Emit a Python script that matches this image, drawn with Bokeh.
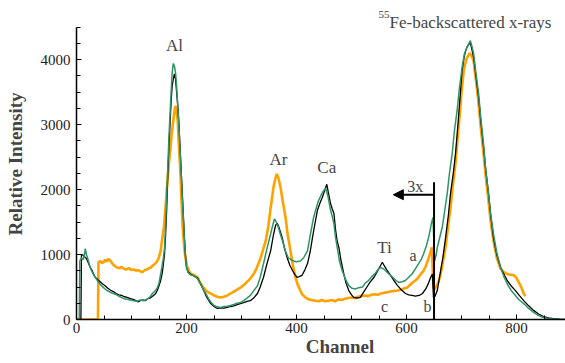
from bokeh.plotting import figure
from bokeh.models import FixedTicker, Label, Arrow, NormalHead
from bokeh.embed import file_html
from bokeh.resources import INLINE

# ---- data ----
black_ch = [0, 8, 9, 12, 15, 18, 21, 25, 28, 31, 34, 38, 42, 47, 52, 57, 62, 67, 72, 77, 82, 87, 92, 98, 103, 108, 112, 116, 120, 125, 129, 134, 140, 144, 147, 150, 153, 156, 158, 160, 162, 164, 166, 168, 170, 172, 174, 176, 178, 180, 182, 184, 186, 188, 190, 192, 194, 196, 198, 200, 203, 207, 211, 215, 220, 225, 231, 237, 244, 250, 256, 262, 268, 274, 280, 286, 292, 298, 304, 310, 316, 322, 329, 334, 340, 346, 353, 358, 362, 365, 368, 371, 374, 378, 383, 388, 393, 397, 401, 405, 410, 415, 420, 425, 429, 434, 438, 443, 447, 451, 455, 458, 462, 465, 468, 471, 474, 477, 481, 486, 490, 495, 500, 504, 510, 516, 522, 528, 534, 541, 547, 552, 556, 560, 565, 571, 577, 583, 589, 594, 598, 604, 610, 616, 623, 629, 635, 640, 644, 647, 649, 652, 656, 659, 662, 666, 671, 676, 680, 685, 689, 692, 695, 698, 701, 705, 708, 710, 713, 716, 719, 722, 726, 731, 735, 740, 744, 749, 753, 758, 764, 771, 777, 783, 790, 798, 805, 813, 822, 831, 840, 849, 858, 867, 878, 890]
black_val = [0, 0, 1000, 990, 960, 940, 880, 800, 760, 700, 650, 620, 590, 550, 520, 480, 450, 430, 400, 380, 370, 350, 340, 320, 310, 290, 270, 290, 300, 290, 320, 330, 370, 400, 450, 520, 600, 720, 860, 1000, 1300, 1700, 2240, 2650, 3000, 3350, 3600, 3700, 3780, 3700, 3500, 3300, 3050, 2700, 2350, 2000, 1650, 1300, 1000, 800, 730, 700, 680, 660, 640, 560, 450, 340, 245, 200, 170, 180, 175, 185, 200, 210, 230, 245, 260, 280, 290, 330, 400, 500, 650, 850, 1060, 1300, 1450, 1480, 1420, 1340, 1260, 1100, 950, 830, 750, 690, 650, 660, 680, 760, 860, 1050, 1260, 1500, 1680, 1800, 1880, 1980, 2080, 1950, 1780, 1700, 1630, 1380, 1200, 1110, 900, 700, 560, 445, 380, 340, 330, 340, 420, 500, 580, 650, 740, 820, 880, 820, 750, 680, 600, 530, 470, 430, 400, 380, 370, 360, 370, 400, 470, 560, 650, 700, 330, 360, 450, 600, 750, 950, 1260, 1600, 1940, 2250, 2550, 2850, 3170, 3500, 3830, 4050, 4150, 4190, 4230, 4260, 4150, 4030, 3750, 3420, 3050, 2650, 2300, 1940, 1600, 1260, 1000, 800, 700, 600, 520, 445, 370, 290, 210, 140, 85, 45, 25, 15, 5, 0]

orange_ch = [0, 39, 40, 43, 46, 49, 52, 55, 58, 62, 66, 70, 74, 78, 82, 86, 90, 95, 100, 104, 108, 112, 116, 120, 124, 128, 132, 135, 139, 143, 147, 150, 153, 156, 159, 162, 165, 168, 171, 173, 176, 178, 180, 182, 184, 186, 189, 191, 193, 196, 198, 201, 204, 208, 212, 216, 220, 225, 231, 237, 244, 250, 256, 262, 268, 274, 280, 286, 292, 298, 304, 310, 316, 322, 327, 331, 336, 340, 344, 349, 353, 356, 358, 361, 364, 367, 371, 375, 380, 384, 389, 393, 398, 402, 407, 411, 416, 422, 428, 434, 440, 446, 452, 458, 464, 470, 476, 482, 488, 494, 500, 506, 512, 518, 524, 530, 536, 542, 548, 553, 559, 565, 571, 577, 584, 590, 596, 601, 606, 611, 616, 620, 625, 631, 635, 640, 643, 646, 649, 652, 655, 659, 662, 666, 671, 675, 680, 684, 689, 693, 697, 700, 704, 707, 710, 713, 715, 718, 722, 726, 731, 735, 740, 744, 749, 753, 758, 764, 771, 777, 783, 789, 795, 800, 804, 809, 813, 816]
orange_val = [0, 0, 880, 900, 870, 880, 920, 890, 930, 900, 850, 820, 800, 790, 810, 780, 770, 790, 760, 770, 750, 760, 740, 730, 760, 770, 790, 800, 830, 860, 900, 960, 1060, 1250, 1420, 1750, 2090, 2400, 2650, 2850, 3060, 3200, 3290, 3200, 3060, 2700, 2240, 1800, 1420, 1100, 950, 820, 750, 700, 690, 670, 650, 560, 490, 430, 400, 370, 350, 340, 350, 370, 400, 430, 460, 490, 530, 580, 630, 700, 780, 860, 980, 1100, 1210, 1450, 1720, 1900, 2030, 2150, 2240, 2180, 2030, 1820, 1570, 1300, 1060, 850, 650, 540, 445, 380, 340, 310, 300, 290, 280, 300, 280, 290, 300, 280, 310, 300, 320, 330, 340, 330, 350, 360, 370, 360, 380, 390, 380, 400, 410, 420, 430, 440, 445, 460, 480, 490, 530, 570, 600, 630, 690, 750, 820, 940, 1020, 1110, 480, 470, 520, 600, 700, 880, 1110, 1400, 1720, 2050, 2400, 2800, 3170, 3500, 3830, 3950, 4030, 4070, 4100, 4060, 3980, 3700, 3320, 2950, 2550, 2200, 1830, 1500, 1210, 950, 780, 730, 700, 690, 680, 640, 570, 490, 400, 360]

green_ch = [0, 5, 6, 9, 12, 14, 16, 18, 20, 23, 25, 29, 33, 38, 43, 49, 55, 61, 67, 73, 79, 86, 92, 98, 104, 110, 116, 122, 128, 133, 138, 143, 147, 150, 153, 156, 158, 160, 162, 164, 166, 168, 170, 172, 174, 176, 178, 180, 182, 184, 186, 188, 190, 192, 194, 196, 198, 200, 203, 207, 212, 216, 220, 225, 230, 235, 240, 245, 250, 256, 262, 268, 274, 280, 286, 292, 298, 304, 310, 316, 322, 329, 334, 340, 346, 353, 357, 360, 363, 367, 371, 376, 380, 385, 390, 395, 400, 407, 413, 420, 425, 431, 436, 440, 445, 449, 453, 457, 462, 466, 468, 471, 474, 478, 483, 489, 495, 501, 507, 513, 520, 525, 531, 537, 544, 549, 553, 558, 562, 568, 575, 581, 586, 592, 598, 604, 610, 616, 622, 627, 631, 636, 640, 643, 645, 648, 651, 654, 656, 660, 665, 669, 674, 678, 683, 687, 692, 696, 701, 705, 710, 713, 716, 719, 722, 726, 731, 735, 740, 744, 749, 753, 758, 764, 771, 777, 783, 790, 798, 805, 813, 822, 831, 840, 849, 858, 867, 878, 890]
green_val = [0, 0, 900, 950, 920, 980, 1090, 1000, 950, 860, 800, 720, 660, 600, 540, 490, 450, 420, 400, 380, 350, 320, 310, 300, 290, 280, 300, 290, 310, 340, 400, 440, 490, 560, 700, 850, 950, 1100, 1450, 1900, 2350, 2800, 3150, 3500, 3800, 3940, 3900, 3800, 3600, 3300, 3000, 2650, 2300, 1950, 1600, 1250, 980, 800, 720, 690, 680, 660, 630, 560, 470, 400, 320, 260, 215, 195, 185, 200, 205, 215, 230, 250, 260, 290, 330, 370, 440, 520, 650, 860, 1080, 1320, 1460, 1550, 1500, 1420, 1300, 1170, 1050, 950, 920, 900, 890, 900, 950, 1060, 1300, 1570, 1720, 1830, 1920, 1980, 2020, 1900, 1680, 1550, 1470, 1260, 1110, 900, 750, 620, 520, 480, 470, 490, 500, 560, 600, 660, 720, 780, 800, 780, 750, 700, 650, 600, 570, 580, 600, 650, 700, 780, 860, 930, 1010, 1130, 1260, 1380, 1470, 1570, 900, 1000, 1110, 1250, 1420, 1650, 1940, 2250, 2550, 2900, 3220, 3550, 3880, 4080, 4190, 4240, 4290, 4200, 4090, 3800, 3480, 3100, 2700, 2300, 1940, 1620, 1320, 1030, 800, 660, 550, 450, 370, 300, 245, 170, 110, 60, 30, 15, 8, 3, 0]

x_ticks = [0, 200, 400, 600, 800]
x_minor = [50, 100, 150, 250, 300, 350, 450, 500, 550, 650, 700, 750, 850]
y_ticks = [0, 1000, 2000, 3000, 4000]
y_minor = [250, 500, 750, 1250, 1500, 1750, 2250, 2500, 2750, 3250, 3500, 3750, 4250, 4500]

# annotations
peak_labels = ["Al", "Ar", "Ca", "Ti"]
peak_x = [178, 367, 455, 560]
peak_y = [4215, 2465, 2340, 1110]
curve_labels = ["a", "b", "c"]
curve_lx = [612, 638, 560]
curve_ly = [985, 200, 200]
scale_text = "3x"
scale_x, scale_y = 616, 2050
cut_channel = 650
cut_top = 2110
arrow_y = 1920
arrow_end = 576

SERIF = "Liberation Serif"
ORANGE = "#FFA200"
GREEN = "#2E9464"
NBSP = "\u00a0"

p = figure(width=565, height=363, x_range=(0, 889), y_range=(0, 4785),
           output_backend="svg", toolbar_location=None,
           min_border_left=76, min_border_right=0, min_border_top=8, min_border_bottom=44)
p.outline_line_color = None
p.grid.visible = False
p.background_fill_color = "white"

p.line(orange_ch, orange_val, line_color=ORANGE, line_width=2.6)
p.line(black_ch, black_val, line_color="black", line_width=1.3)
p.line(green_ch, green_val, line_color=GREEN, line_width=1.5)

p.segment(x0=[cut_channel], y0=[0], x1=[cut_channel], y1=[cut_top], line_color="black", line_width=2)
p.add_layout(Arrow(end=NormalHead(size=10, fill_color="black", line_color="black"),
                   x_start=cut_channel, y_start=arrow_y, x_end=arrow_end, y_end=arrow_y,
                   line_width=2, line_color="black"))

for ax in (p.xaxis[0], p.yaxis[0]):
    ax.axis_line_color = "black"
    ax.axis_line_width = 1.5
    ax.major_tick_line_color = "black"
    ax.minor_tick_line_color = "black"
    ax.major_tick_in = 5
    ax.major_tick_out = 0
    ax.minor_tick_in = 4
    ax.minor_tick_out = 0
    ax.major_label_text_font = SERIF
    ax.major_label_text_font_size = "15px"
    ax.major_label_text_color = "#222222"
    ax.major_label_standoff = 6

p.xaxis.ticker = FixedTicker(ticks=x_ticks, minor_ticks=x_minor)
p.yaxis.ticker = FixedTicker(ticks=y_ticks, minor_ticks=y_minor)
p.yaxis.bounds = (0, 4500)

p.yaxis.axis_label = "Relative Intensity"
p.yaxis.axis_label_text_font = SERIF
p.yaxis.axis_label_text_font_style = "bold"
p.yaxis.axis_label_text_font_size = "19px"
p.yaxis.axis_label_standoff = 12

p.xaxis.axis_label = NBSP * 8 + "Channel"
p.xaxis.axis_label_text_font = SERIF
p.xaxis.axis_label_text_font_style = "bold"
p.xaxis.axis_label_text_font_size = "19px"
p.xaxis.axis_label_standoff = 0
p.xaxis.major_label_standoff = 3

for t, x, y in zip(peak_labels, peak_x, peak_y):
    p.add_layout(Label(x=x, y=y, text=t, text_font=SERIF, text_font_size="17px",
                       text_align="center", text_baseline="alphabetic"))
for t, x, y in zip(curve_labels, curve_lx, curve_ly):
    p.add_layout(Label(x=x, y=y, text=t, text_font=SERIF, text_font_size="16px",
                       text_align="center", text_baseline="alphabetic"))
p.add_layout(Label(x=scale_x, y=scale_y, text=scale_text, text_font=SERIF, text_font_size="16px",
                   text_align="center", text_baseline="alphabetic"))

p.add_layout(Label(x=549, y=4690, text="55", text_font=SERIF, text_font_size="11px",
                   text_align="left", text_baseline="alphabetic"))
p.add_layout(Label(x=569, y=4570, text="Fe-backscattered x-rays", text_font=SERIF,
                   text_font_size="17px", text_align="left", text_baseline="alphabetic"))

open("out.html", "w").write(file_html(p, INLINE))
